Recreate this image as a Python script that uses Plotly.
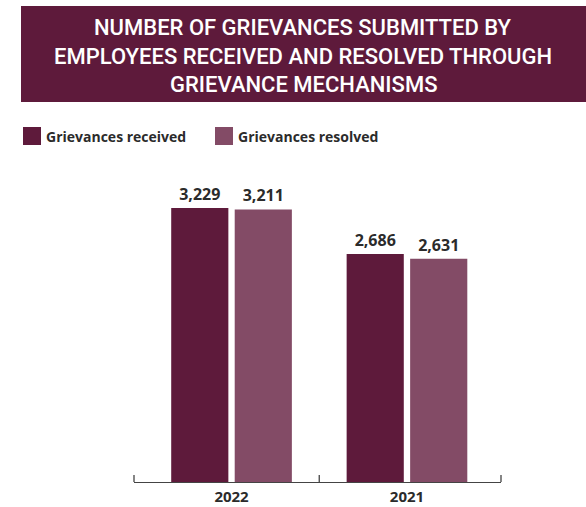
import plotly.graph_objects as go

# Data
years = ["2022", "2021"]
series_names = ["Grievances received", "Grievances resolved"]
received = [3229, 2686]
resolved = [3211, 2631]
title_lines = [
    "NUMBER OF GRIEVANCES SUBMITTED BY",
    "EMPLOYEES RECEIVED AND RESOLVED THROUGH",
    "GRIEVANCE MECHANISMS",
]

# Style
W, H = 586, 507
M_L, M_R, M_T, M_B = 134, 85, 160, 25
PW, PH = W - M_L - M_R, H - M_T - M_B
C_RECEIVED = "#5E1A3B"
C_RESOLVED = "#834B66"
TEXT = "#2B2B2B"
AXIS = "#444444"
FONT = "Open Sans"
TITLE_FONT = "Roboto"


def px_x(x):
    return (x - M_L) / PW


def px_y(y):
    return (H - M_B - y) / PH


fig = go.Figure()
for name, vals, col in [
    (series_names[0], received, C_RECEIVED),
    (series_names[1], resolved, C_RESOLVED),
]:
    fig.add_trace(
        go.Bar(
            x=years,
            y=vals,
            name=name,
            marker=dict(color=col, line=dict(width=0)),
            text=[f"{v:,}" for v in vals],
            textposition="outside",
            textfont=dict(family=FONT, size=16, color=TEXT, weight="bold"),
            cliponaxis=False,
            showlegend=False,
        )
    )

# Title banner
fig.add_shape(
    type="rect", xref="paper", yref="paper",
    x0=px_x(21), x1=px_x(W), y0=px_y(6), y1=px_y(102),
    fillcolor=C_RECEIVED, line=dict(width=0), layer="below",
)
for line, yc in zip(title_lines, [28, 56, 84]):
    fig.add_annotation(
        xref="paper", yref="paper", x=px_x(303), y=px_y(yc),
        text=line, showarrow=False,
        font=dict(family=TITLE_FONT, size=22, color="white", weight=500),
        xanchor="center", yanchor="middle",
    )

# Legend
legend_items = [(series_names[0], C_RECEIVED, 23), (series_names[1], C_RESOLVED, 215)]
for name, col, x0 in legend_items:
    fig.add_shape(
        type="rect", xref="paper", yref="paper",
        x0=px_x(x0), x1=px_x(x0 + 18), y0=px_y(145), y1=px_y(127),
        fillcolor=col, line=dict(width=0),
    )
    fig.add_annotation(
        xref="paper", yref="paper", x=px_x(x0 + 21), y=px_y(136),
        text=name, showarrow=False, xanchor="left", yanchor="middle",
        font=dict(family=FONT, size=14, color=TEXT, weight="bold"),
    )

# Category axis ticks at group boundaries (pointing up)
x_range = [-0.556, 1.536]
for xv, ref in [(0, "paper"), (1, "paper"), (0.5, "x")]:
    fig.add_shape(
        type="line", xref=ref, yref="paper",
        x0=xv, x1=xv, y0=0, y1=px_y(475),
        line=dict(color=AXIS, width=1.3),
    )

fig.update_layout(
    width=W, height=H,
    margin=dict(l=M_L, r=M_R, t=M_T, b=M_B, autoexpand=False),
    paper_bgcolor="white", plot_bgcolor="white",
    barmode="group", bargap=0.276, bargroupgap=0.1,
    xaxis=dict(
        type="category", range=x_range, showline=True, linecolor=AXIS,
        linewidth=1.3, ticks="", showgrid=False, ticklabelstandoff=1,
        automargin=False,
        tickfont=dict(family=FONT, size=15, color=TEXT, weight="bold"),
    ),
    yaxis=dict(range=[0, 3794], visible=False, showgrid=False),
)

fig.write_html("out.html")
